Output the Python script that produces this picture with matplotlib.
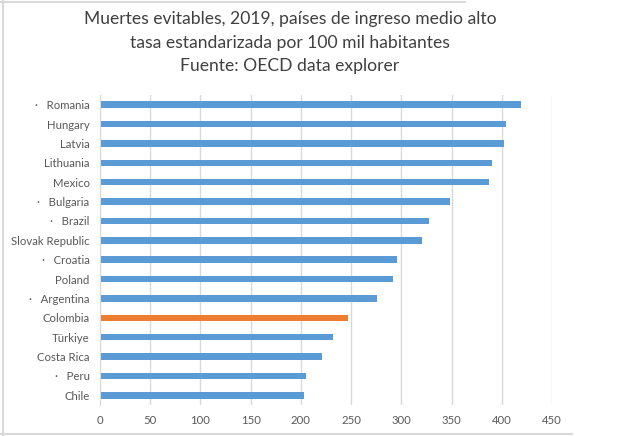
import matplotlib
matplotlib.use("Agg")
import matplotlib.pyplot as plt
from matplotlib.lines import Line2D
from matplotlib import font_manager

countries = ["·   Romania", "Hungary", "Latvia", "Lithuania", "Mexico", "·   Bulgaria",
             "·   Brazil", "Slovak Republic", "·   Croatia", "Poland", "·   Argentina",
             "Colombia", "Türkiye", "Costa Rica", "·   Peru", "Chile"]
values = [419, 404, 402, 390, 387, 348, 328, 321, 296, 292, 276, 247, 232, 221, 205, 203]
highlight = "Colombia"
xticks = [0, 50, 100, 150, 200, 250, 300, 350, 400, 450]
title = ("Muertes evitables, 2019, países de ingreso medio alto\n"
         "tasa estandarizada por 100 mil habitantes\n"
         "Fuente: OECD data explorer")

W, H = 643, 436
fig = plt.figure(figsize=(W / 100, H / 100), dpi=100)
ax = fig.add_axes([100 / W, 1 - 405 / H, 452 / W, 310 / H])

available = {f.name for f in font_manager.fontManager.ttflist}
prefs = ["Liberation Sans Narrow", "Lato", "DejaVu Sans"]
font = [f for f in prefs if f in available] + ["DejaVu Sans"]

blue = "#5B9BD5"
orange = "#ED7D31"
colors = [orange if c == highlight else blue for c in countries]
ypos = list(range(len(countries)))
ax.barh(ypos, values, height=0.34, color=colors, zorder=3)
ax.set_ylim(len(countries) - 0.5, -0.5)
ax.set_xlim(0, 450)
ax.set_xticks(xticks)
ax.set_yticks(ypos)
ax.set_yticklabels(countries, family=font, fontsize=8.2, color="#595959")
ax.set_xticklabels([str(t) for t in xticks], family=font, fontsize=8.2, color="#595959")
ax.tick_params(axis="both", length=0)
ax.tick_params(axis="y", pad=7.5)
ax.tick_params(axis="x", pad=7.5)
ax.grid(axis="x", color="#d9d9d9", linewidth=1, zorder=0)
for s in ["top", "right", "bottom"]:
    ax.spines[s].set_visible(False)
ax.spines["left"].set_color("#d9d9d9")
ax.spines["left"].set_zorder(4)

fig.text(290 / W, 1 - 11 / H, title, ha="center", va="top", family=font,
         fontsize=12.6, color="#404040", linespacing=1.58)

# outer frame lines
lc = "#d9d9d9"
fig.add_artist(Line2D([3 / W, 3 / W], [0, 1], color=lc, lw=1.5, transform=fig.transFigure))
fig.add_artist(Line2D([0, 465 / W], [1 - 2 / H, 1 - 2 / H], color=lc, lw=1.5, transform=fig.transFigure))
fig.add_artist(Line2D([0, 572 / W], [2 / H, 2 / H], color=lc, lw=1.5, transform=fig.transFigure))

fig.savefig("out.png", dpi=100, facecolor="white")
